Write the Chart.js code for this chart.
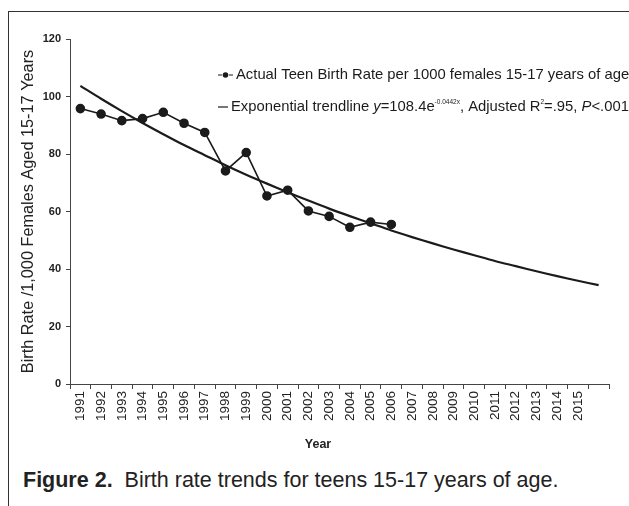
<!DOCTYPE html>
<html lang="en">
  <head>
    <meta charset="UTF-8" />
    <title>Birth rate trends for teens 15-17 years of age</title>
    <script src="https://cdn.jsdelivr.net/npm/chart.js"></script>
    <style>
      body { margin: 0; background: #fff; width: 629px; height: 506px; overflow: hidden; position: relative; font-family: "Liberation Sans", Arial, sans-serif; }
      #frame { position: absolute; left: 8px; top: 11px; width: 640px; height: 520px; border-left: 1px solid #333; border-top: 1px solid #333; }
      #wrap { position: absolute; left: 0; top: 0; width: 629px; height: 452px; }
      #caption { position: absolute; left: 23px; top: 468px; font-size: 21.5px; color: #222; white-space: nowrap; }
    </style>
  </head>
  <body>
    <div id="frame"></div>
    <div id="wrap"><canvas id="rateChart"></canvas></div>
    <div id="caption"><b>Figure 2.</b>&nbsp; Birth rate trends for teens 15-17 years of age.</div>

    <script>
      // tick labels (last slot has no label in the original)
      const years = ["1991", "1992", "1993", "1994", "1995", "1996", "1997", "1998", "1999",
        "2000", "2001", "2002", "2003", "2004", "2005", "2006", "2007", "2008", "2009",
        "2010", "2011", "2012", "2013", "2014", "2015", ""];

      // actual teen birth rate per 1000 females 15-17
      const actualRate = [95.8, 93.9, 91.6, 92.3, 94.5, 90.7, 87.5, 74.1, 80.5, 65.4,
        67.4, 60.2, 58.3, 54.5, 56.3, 55.5];

      // exponential trendline
      const trendRate = [103.7, 99.2, 94.9, 90.8, 86.9, 83.1, 79.6, 76.1, 72.8, 69.7,
        66.7, 63.8, 61.0, 58.4, 55.9, 53.4, 51.1, 48.9, 46.8, 44.8, 42.8, 41.0, 39.2,
        37.5, 35.9, 34.4];

      const yTicks = [0, 20, 40, 60, 80, 100, 120];

      const ink = "#1b1b1b";
      const fontFam = "'Liberation Sans', Arial, sans-serif";

      // draws the key text in the top right (italics, superscripts) and the x title
      const keyPlugin = {
        id: "keyText",
        afterDraw(chart) {
          const c = chart.ctx;
          c.save();
          c.fillStyle = ink;
          c.textBaseline = "middle";
          const runs = (x, y, parts) => {
            parts.forEach(([txt, font, dy]) => {
              c.font = font;
              c.fillText(txt, x, y + dy);
              x += c.measureText(txt).width;
            });
          };
          const n = "14.8px " + fontFam;
          const it = "italic 14.8px " + fontFam;
          const sup = "6.5px " + fontFam;
          // line 1 marker
          c.strokeStyle = ink;
          c.lineWidth = 1.2;
          c.beginPath();
          c.moveTo(218, 75); c.lineTo(222, 75);
          c.moveTo(229, 75); c.lineTo(233, 75);
          c.stroke();
          c.beginPath();
          c.arc(225.5, 75, 2.8, 0, Math.PI * 2);
          c.fill();
          runs(236, 75, [["Actual Teen Birth Rate per 1000 females 15-17 years of age", n, 0]]);
          // line 2 marker
          c.beginPath();
          c.moveTo(218, 107); c.lineTo(228, 107);
          c.stroke();
          runs(231, 107, [
            ["Exponential trendline ", n, 0],
            ["y", it, 0],
            ["=108.4e", n, 0],
            ["-0.0442x", sup, -5],
            [", Adjusted R", n, 0],
            ["2", sup, -5],
            ["=.95, ", n, 0],
            ["P", it, 0],
            ["<.001", n, 0],
          ]);
          // x axis title sits a bit left of centre in the original
          c.fillStyle = "#222";
          c.font = "bold 12.5px " + fontFam;
          c.textAlign = "center";
          c.fillText("Year", 318, 445);
          c.restore();
        },
      };

      const ctx = document.getElementById("rateChart").getContext("2d");
      new Chart(ctx, {
        type: "line",
        data: {
          labels: years,
          datasets: [
            {
              label: "Actual Teen Birth Rate per 1000 females 15-17 years of age",
              data: actualRate,
              borderColor: ink,
              backgroundColor: ink,
              borderWidth: 1.6,
              pointRadius: 4,
              pointHoverRadius: 4,
              tension: 0,
            },
            {
              label: "Exponential trendline",
              data: trendRate,
              borderColor: ink,
              borderWidth: 2.2,
              pointRadius: 0,
              tension: 0.3,
            },
          ],
        },
        options: {
          responsive: true,
          maintainAspectRatio: false,
          animation: false,
          layout: { padding: { left: 19, top: 39, right: 20, bottom: 2 } },
          plugins: {
            legend: { display: false },
            tooltip: { enabled: false },
          },
          scales: {
            x: {
              offset: true,
              grid: { offset: true, drawOnChartArea: false, tickLength: 5, color: "#444" },
              border: { color: "#444", width: 1 },
              ticks: {
                autoSkip: false,
                maxRotation: 90,
                minRotation: 90,
                padding: 2,
                color: "#222",
                font: { family: fontFam, size: 13.5 },
              },
              afterFit(scale) { scale.height = 66; },
            },
            y: {
              min: 0,
              max: 120,
              afterBuildTicks(scale) { scale.ticks = yTicks.map((v) => ({ value: v })); },
              grid: { drawOnChartArea: false, tickLength: 4, color: "#444" },
              border: { color: "#444", width: 1 },
              ticks: {
                padding: 5,
                color: "#222",
                font: { family: fontFam, size: 11, weight: "bold" },
              },
              title: {
                display: true,
                text: "Birth Rate /1,000 Females Aged 15-17 Years",
                color: "#222",
                padding: { top: 0, bottom: 0 },
                font: { family: fontFam, size: 16.3 },
              },
              afterFit(scale) { scale.width = 51; },
            },
          },
        },
        plugins: [keyPlugin],
      });
    </script>
  </body>
</html>
